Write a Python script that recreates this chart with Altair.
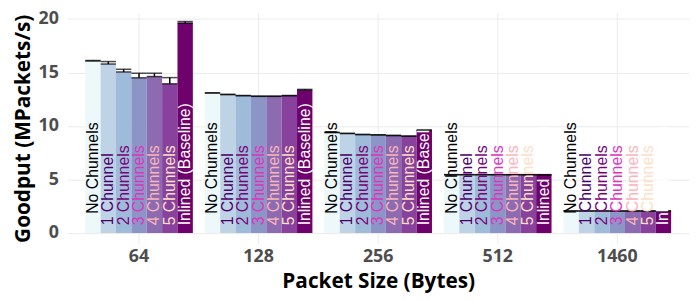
import altair as alt
import pandas as pd

sizes = ["64", "128", "256", "512", "1460"]
configs = ["No Chunnels", "1 Chunnel", "2 Chunnels", "3 Chunnels",
           "4 Chunnels", "5 Chunnels", "Inlined (Baseline)"]

# goodput per packet size, one value per config (same order as configs)
g64 = [16.07, 15.79, 15.05, 14.50, 14.62, 13.94, 19.62]
g128 = [13.08, 12.93, 12.83, 12.77, 12.77, 12.83, 13.35]
g256 = [9.39, 9.30, 9.20, 9.17, 9.11, 9.05, 9.60]
g512 = [5.45, 5.45, 5.45, 5.45, 5.45, 5.45, 5.45]
g1460 = [2.06, 2.06, 2.06, 2.06, 2.06, 2.06, 2.06]

# upper end of error bars
e64 = [16.12, 16.02, 15.30, 14.93, 14.93, 14.52, 19.76]
e128 = [13.10, 12.96, 12.85, 12.79, 12.79, 12.85, 13.42]
e256 = [9.40, 9.31, 9.21, 9.18, 9.12, 9.06, 9.62]
e512 = [5.46, 5.46, 5.46, 5.46, 5.46, 5.46, 5.46]
e1460 = [2.07, 2.07, 2.07, 2.07, 2.07, 2.07, 2.07]

# height at which each in-bar label starts
label_start = [1.8, 0.72, 0.72, 0.72, 0.72, 0.72, 0.72]

bar_colors = ["#edf8fb", "#bfd3e6", "#9ebcda", "#8c96c6", "#8c6bb1", "#88419d", "#6e016b"]
text_colors = ["#000000", "#49006a", "#7a0177", "#dd34c0", "#fbb4b9", "#fde0c5", "#ffffff"]

rows = []
for s, vals, errs in zip(sizes, [g64, g128, g256, g512, g1460], [e64, e128, e256, e512, e1460]):
    for c, v, e, ly in zip(configs, vals, errs, label_start):
        rows.append({"size": s, "config": c, "goodput": v, "lo": v, "hi": e, "label_y": ly})
df = pd.DataFrame(rows)

FONT = "Open Sans"

x_enc = alt.X("size:N", sort=sizes,
              scale=alt.Scale(paddingInner=0.1, paddingOuter=0.15, round=False),
              axis=alt.Axis(title="Packet Size (Bytes)", labelAngle=0, grid=True,
                            bandPosition=0.5, ticks=False, domain=False,
                            gridColor="#ebebeb", gridWidth=1,
                            labelFont=FONT, labelFontSize=18, labelFontWeight="bold",
                            labelColor="#4d4d4d", labelPadding=4,
                            titleFont=FONT, titleFontSize=21, titleFontWeight="bold",
                            titleColor="#000000", titlePadding=5))
xo_enc = alt.XOffset("config:N", sort=configs, scale=alt.Scale(paddingInner=0, paddingOuter=0))
y_scale = alt.Scale(domain=[-1.016, 20.59], nice=False, zero=False)
y_axis = alt.Axis(title="Goodput (MPackets/s)", values=[0, 2.5, 5, 7.5, 10, 12.5, 15, 17.5, 20],
                  labelExpr="datum.value % 5 == 0 ? datum.label : ''",
                  ticks=False, domain=False, gridColor="#ebebeb", gridWidth=1,
                  labelFont=FONT, labelFontSize=18, labelFontWeight="bold",
                  labelColor="#4d4d4d", labelPadding=9,
                  titleFont=FONT, titleFontSize=21, titleFontWeight="bold",
                  titleColor="#000000", titlePadding=5)

base = alt.Chart(df)
xs = alt.X("size:N", sort=sizes)
xos = alt.XOffset("config:N", sort=configs)

bars = base.mark_bar().encode(
    x=x_enc, xOffset=xo_enc,
    y=alt.Y("goodput:Q", scale=y_scale, axis=y_axis),
    y2=alt.datum(0),
    color=alt.Color("config:N", sort=configs,
                    scale=alt.Scale(domain=configs, range=bar_colors), legend=None),
)

err_rule = base.mark_rule(color="black", strokeWidth=1.5).encode(
    x=xs, xOffset=xos, y="lo:Q", y2="hi:Q",
)
err_hi = base.mark_tick(color="black", thickness=1.5, size=15.5).encode(
    x=xs, xOffset=xos, y="hi:Q",
)
err_lo = base.mark_tick(color="black", thickness=1.5, size=15.5).encode(
    x=xs, xOffset=xos, y="lo:Q",
)

labels = base.mark_text(angle=270, align="left", baseline="middle",
                        font="Liberation Sans", fontSize=16).encode(
    x=xs, xOffset=xos,
    y="label_y:Q",
    text="config:N",
    color=alt.Color("config:N", sort=configs,
                    scale=alt.Scale(domain=configs, range=text_colors), legend=None),
)

chart = alt.layer(bars, err_rule, err_hi, err_lo, labels).resolve_scale(
    color="independent"
).properties(
    width=629, height=234,
    autosize=alt.AutoSizeParams(type="none"),
    padding={"left": 60, "top": 3, "right": 3, "bottom": 52},
).configure_view(stroke=None)

chart.save("out.html", embed_options={"renderer": "svg", "actions": False})
